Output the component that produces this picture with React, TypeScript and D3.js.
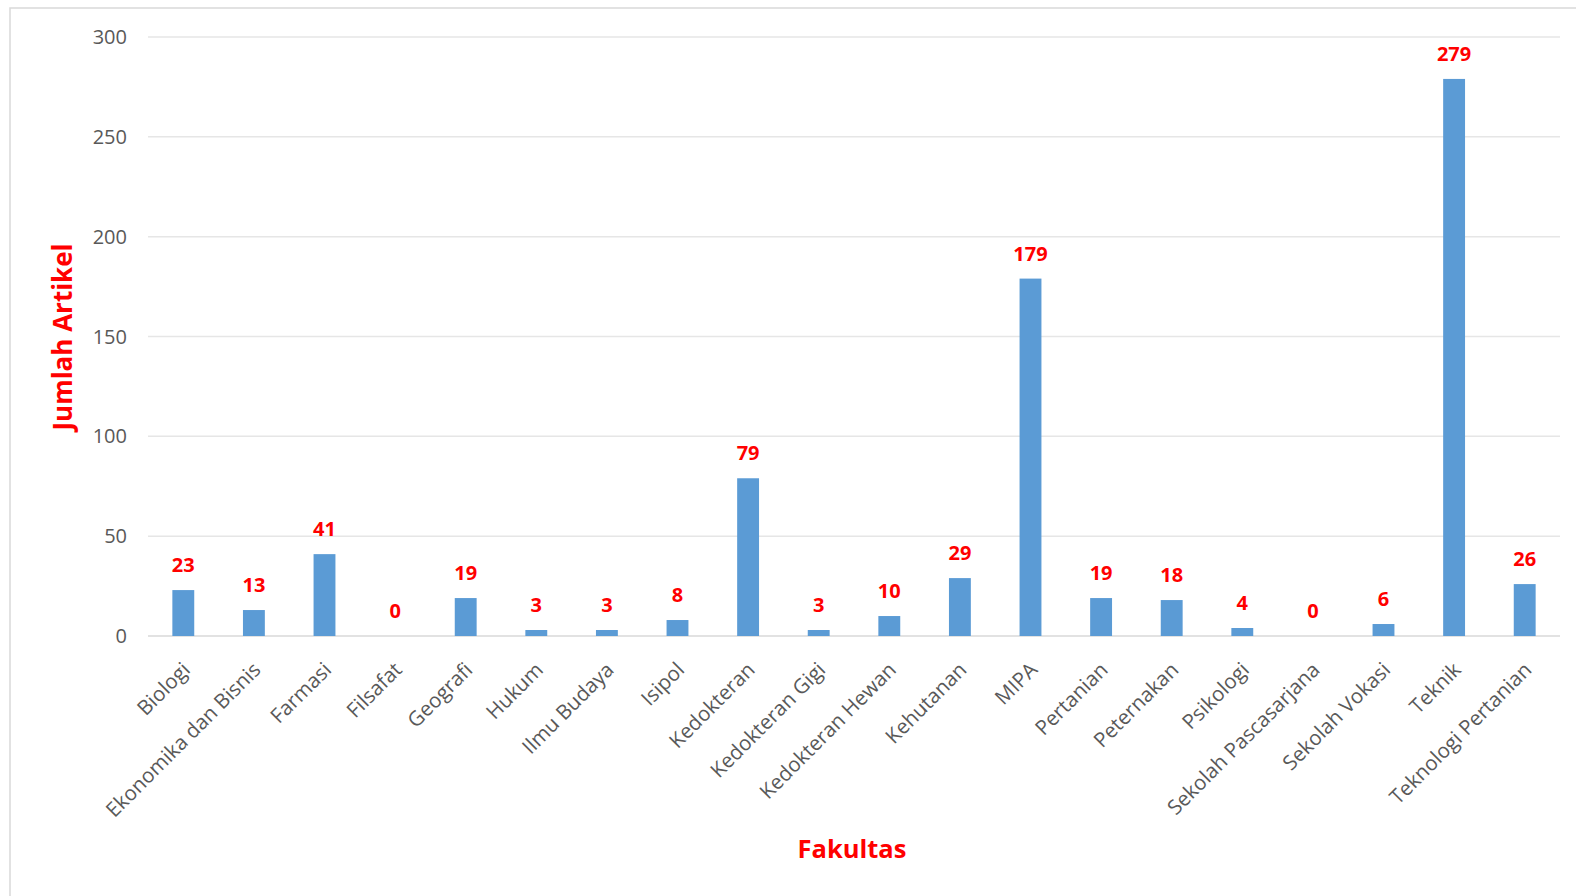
import React from "react";
import * as d3 from "d3";

const categories = [
  "Biologi", "Ekonomika dan Bisnis", "Farmasi", "Filsafat", "Geografi", "Hukum",
  "Ilmu Budaya", "Isipol", "Kedokteran", "Kedokteran Gigi", "Kedokteran Hewan",
  "Kehutanan", "MIPA", "Pertanian", "Peternakan", "Psikologi",
  "Sekolah Pascasarjana", "Sekolah Vokasi", "Teknik", "Teknologi Pertanian",
];
const values = [23, 13, 41, 0, 19, 3, 3, 8, 79, 3, 10, 29, 179, 19, 18, 4, 0, 6, 279, 26];
const yTicks = [0, 50, 100, 150, 200, 250, 300];
const xTitle = "Fakultas";
const yTitle = "Jumlah Artikel";

const W = 1576;
const H = 896;
const FONT = "'Open Sans', 'DejaVu Sans', sans-serif";

export default function App() {
  const x = d3.scaleBand<string>().domain(categories).range([148, 1560]).paddingInner(0.69).paddingOuter(0.345);
  const y = d3.scaleLinear().domain([0, 300]).range([636, 37]);
  return (
    <svg width={W} height={H} style={{ position: "absolute", left: 0, top: 0, background: "#fff" }}>
      <rect x={10} y={8} width={W} height={H} fill="#fff" stroke="#d9d9d9" strokeWidth={1.5} />
      {yTicks.map((t) => (
        <g key={t}>
          <line x1={148} x2={1560} y1={y(t)} y2={y(t)} stroke={t === 0 ? "#d9d9d9" : "#e6e6e6"} strokeWidth={1.5} />
          <text x={127} y={y(t)} dy="0.35em" textAnchor="end" fontFamily={FONT} fontSize={20} fill="#595959">
            {t}
          </text>
        </g>
      ))}
      {categories.map((c, i) => {
        const bx = x(c)!;
        const cx = bx + x.bandwidth() / 2;
        return (
          <g key={c}>
            {values[i] > 0 && (
              <rect x={bx} y={y(values[i])} width={x.bandwidth()} height={y(0) - y(values[i])} fill="#5b9bd5" />
            )}
            <text x={cx} y={y(values[i]) - 18} textAnchor="middle" fontFamily={FONT} fontWeight="bold" fontSize={20} fill="#ff0000">
              {values[i]}
            </text>
            <text
              transform={`translate(${cx + 3},${666}) rotate(-45)`}
              textAnchor="end"
              dy="0.35em"
              fontFamily={FONT}
              fontSize={20.5}
              fill="#595959"
            >
              {c}
            </text>
          </g>
        );
      })}
      <text x={852} y={858} textAnchor="middle" fontFamily={FONT} fontWeight="bold" fontSize={25.5} fill="#ff0000">
        {xTitle}
      </text>
      <text transform={`translate(72,${337}) rotate(-90)`} textAnchor="middle" fontFamily={FONT} fontWeight="bold" fontSize={26} fill="#ff0000">
        {yTitle}
      </text>
    </svg>
  );
}
